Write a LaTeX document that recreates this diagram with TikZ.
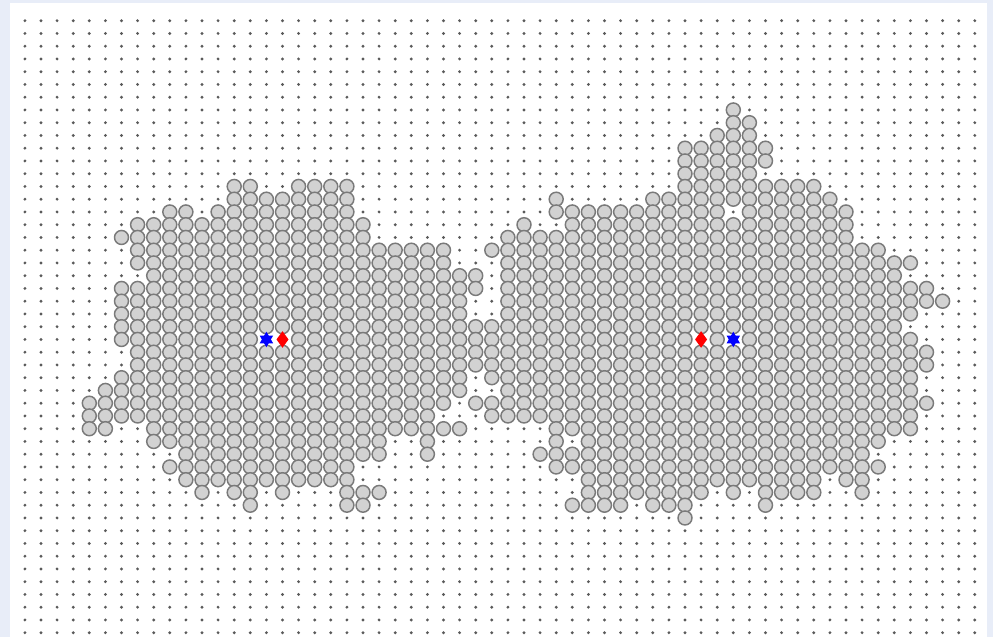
\documentclass[tikz,border=0pt]{standalone}
\definecolor{bgc}{HTML}{E8EDF8}
\definecolor{dotc}{HTML}{5A5A5A}
\definecolor{cellfill}{HTML}{D2D2D2}
\definecolor{celledge}{HTML}{7A7A7A}
\definecolor{starblue}{HTML}{0000FF}
\definecolor{diamred}{HTML}{FF0000}
\begin{document}
\begin{tikzpicture}[x=0.75pt,y=-0.75pt,
  cell/.style={fill=cellfill,draw=celledge,line width=1.1pt},
  griddot/.style={fill=dotc},
  starmark/.style={fill=starblue},
  diammark/.style={fill=diamred}]
\useasboundingbox (0,0) rectangle (993,637);
\fill[bgc] (0,0) rectangle (993,637);
\fill[white] (10,3.3) rectangle (986.7,637);
% background grid of dots
\foreach \c in {0,...,59}{
  \foreach \r in {0,...,48}{
    \fill[griddot] ({24.9+16.1*\c},{20.7+12.75*\r}) circle (1.2pt);
  }
}
% occupied cells: row / first column / last column
\foreach \r/\a/\b in {
  7/44/44,
  8/44/45,
  9/43/45,
  10/41/46,
  11/41/46,
  12/41/45,
  13/13/14, 13/17/20, 13/41/49,
  14/13/20, 14/33/33, 14/39/50,
  15/9/10, 15/12/20, 15/33/43, 15/45/51,
  16/7/21, 16/31/31, 16/34/51,
  17/6/21, 17/30/51,
  18/7/26, 18/29/53,
  19/7/26, 19/30/55,
  20/8/28, 20/30/54,
  21/6/28, 21/30/56,
  22/6/27, 22/30/57,
  23/6/27, 23/30/55,
  24/6/54,
  25/6/14, 25/17/41, 25/43/43, 25/45/55,
  26/7/56,
  27/7/56,
  28/6/27, 28/29/55,
  29/5/27, 29/30/55,
  30/4/26, 30/28/56,
  31/4/25, 31/29/55,
  32/4/5, 32/8/27, 32/33/55,
  33/8/22, 33/25/25, 33/33/33, 33/35/53,
  34/10/22, 34/25/25, 34/32/52,
  35/9/20, 35/33/53,
  36/10/20, 36/35/49, 36/51/52,
  37/11/11, 37/13/14, 37/16/16, 37/20/22, 37/35/42, 37/44/44, 37/46/49, 37/52/52,
  38/14/14, 38/20/21, 38/34/37, 38/39/41, 38/46/46,
  39/41/41}{
  \foreach \c in {\a,...,\b}{
    \draw[cell] ({24.9+16.1*\c},{20.7+12.75*\r}) circle (5.25pt);
  }
}
% markers
\coordinate (s1) at ({24.9+16.1*15},{20.7+12.75*25});
\coordinate (d1) at ({24.9+16.1*16},{20.7+12.75*25});
\coordinate (d2) at ({24.9+16.1*42},{20.7+12.75*25});
\coordinate (s2) at ({24.9+16.1*44},{20.7+12.75*25});
\foreach \p in {s1,s2}{
  \fill[starmark] (\p) +(90:7.8) -- +(210:7.8) -- +(330:7.8) -- cycle;
  \fill[starmark] (\p) +(270:7.8) -- +(30:7.8) -- +(150:7.8) -- cycle;
}
\foreach \p in {d1,d2}{
  \fill[diammark] (\p) +(0,-8.3) -- +(6,0) -- +(0,8.3) -- +(-6,0) -- cycle;
}
\end{tikzpicture}
\end{document}
